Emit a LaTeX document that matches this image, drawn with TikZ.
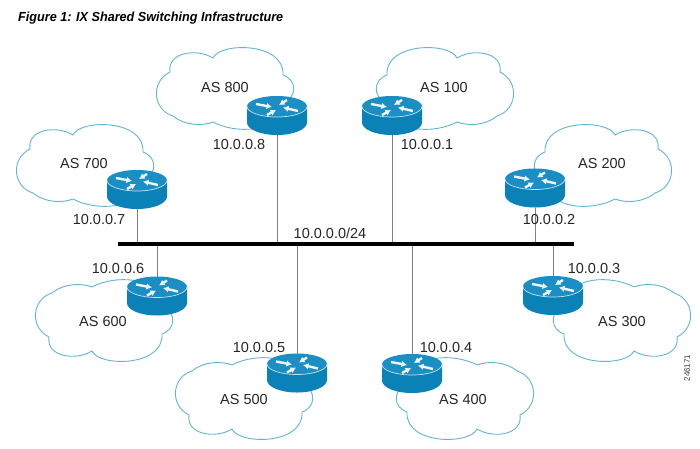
\documentclass[tikz,border=0pt]{standalone}
\usepackage{fontspec}
\usepackage{graphicx}
\setmainfont{Liberation Sans}
\usetikzlibrary{arrows.meta}
\definecolor{cloudc}{HTML}{62B4D4}
\definecolor{bodyc}{HTML}{0A82B8}
\definecolor{topc}{HTML}{1B8FC4}
\definecolor{linec}{HTML}{808080}
\tikzset{
  cloudline/.style={draw=cloudc,line width=0.9pt,fill=white},
  aslabel/.style={font=\fontsize{14.5pt}{16pt}\selectfont,text=black!85,inner sep=0pt},
  iplabel/.style={font=\fontsize{14.5pt}{16pt}\selectfont,text=black!85,inner sep=0pt},
  routerbox/.style={minimum width=60pt,minimum height=39pt,inner sep=0pt,outer sep=0pt},
  link/.style={draw=linec,line width=1pt},
  rarrow/.style={white!92!topc,line width=2.4pt,-{Latex[length=5.5pt,width=6.5pt]}}
}
\newcommand{\cloudat}[4]{%
  \begin{scope}[shift={(#1,#2)},xscale=#3,yscale=#4]
    \path[cloudline] (-55,-16)
      .. controls (-58,-36) and (-28,-40) .. (-12,-30)
      .. controls (-5,-46) and (60,-46) .. (58,-13)
      .. controls (72,-8) and (72,8) .. (60,14)
      .. controls (55,46) and (10,46) .. (-12,34)
      .. controls (-22,38) and (-40,38) .. (-52,28)
      .. controls (-72,22) and (-75,-6) .. (-55,-16) -- cycle;
  \end{scope}}
\newcommand{\routerat}[1]{%
  \begin{scope}[shift={(#1)}]
    \path[fill=bodyc] (-30,-9) -- (-30,7) arc[x radius=30,y radius=12.5,start angle=180,end angle=0] -- (30,-9) -- cycle;
    \path[fill=topc] (0,-9) ellipse[x radius=30,y radius=10.5];
    \draw[white!75!topc,line width=0.7pt] (-30,-9) arc[x radius=30,y radius=10.5,start angle=180,end angle=0];
    \draw[rarrow] (-21,-11.5) -- (-5,-8.5);
    \draw[rarrow] (10,-15.5) -- (2,-10.5);
    \draw[rarrow] (-10,-0.5) -- (-1,-5.5);
    \draw[rarrow] (21,-4.5) -- (6,-8);
  \end{scope}}
\begin{document}
\begin{tikzpicture}[x=1pt,y=-1pt]
\useasboundingbox (0,0) rectangle (700,448);
\fill[white] (0,0) rectangle (700,448);
\node[anchor=west,inner sep=0pt] (title) at (18,18) {\resizebox{265pt}{9.5pt}{\fontsize{12pt}{14pt}\selectfont\bfseries\itshape Figure 1: IX Shared Switching Infrastructure}};
% clouds
\cloudat{225}{88}{1}{1}
\cloudat{445}{88}{-1}{1}
\cloudat{85}{165}{1}{1}
\cloudat{603}{165}{-1}{1}
\cloudat{104}{321}{1}{-1}
\cloudat{622}{321}{-1}{-1}
\cloudat{244}{399}{1}{-1}
\cloudat{465}{399}{-1}{-1}
% routers, anchors and links
\node[routerbox] (r800) at (277,115.5) {};
\node[routerbox] (r100) at (392,115.5) {};
\node[routerbox] (r700) at (137,189.5) {};
\node[routerbox] (r200) at (535,188) {};
\node[routerbox] (r600) at (157,296) {};
\node[routerbox] (r300) at (553,295.5) {};
\node[routerbox] (r500) at (297,373) {};
\node[routerbox] (r400) at (412,373.5) {};
\node[fill=black,minimum width=456pt,minimum height=3.6pt,inner sep=0pt,outer sep=0pt] (bus) at (346,244) {};
\foreach \r in {r800,r100,r700,r200}{\draw[link] (\r.south) -- (\r.south |- bus.north);}
\foreach \r in {r600,r300,r500,r400}{\draw[link] (\r.north) -- (\r.north |- bus.south);}
\routerat{r800}\routerat{r100}\routerat{r700}\routerat{r200}
\routerat{r600}\routerat{r300}\routerat{r500}\routerat{r400}
% labels
\node[aslabel] (a800) at (225,88) {AS 800};
\node[aslabel] (a100) at (444,88) {AS 100};
\node[aslabel] (a700) at (84,164) {AS 700};
\node[aslabel] (a200) at (602,164) {AS 200};
\node[aslabel] (a600) at (103,321) {AS 600};
\node[aslabel] (a300) at (622,321) {AS 300};
\node[aslabel] (a500) at (244,399) {AS 500};
\node[aslabel] (a400) at (463,399) {AS 400};
\node[iplabel] (i8) at (239,145) {10.0.0.8};
\node[iplabel] (i1) at (427,145) {10.0.0.1};
\node[iplabel] (i7) at (99,219) {10.0.0.7};
\node[iplabel] (i2) at (549,219) {10.0.0.2};
\node[iplabel] (i0) at (330,233) {10.0.0.0/24};
\node[iplabel] (i6) at (118,268) {10.0.0.6};
\node[iplabel] (i3) at (594,268) {10.0.0.3};
\node[iplabel] (i5) at (259,347) {10.0.0.5};
\node[iplabel] (i4) at (446,347) {10.0.0.4};
\node[rotate=90,inner sep=0pt,font=\fontsize{8pt}{9pt}\selectfont,text=black!75] (fig) at (687,368) {246171};
\end{tikzpicture}
\end{document}
